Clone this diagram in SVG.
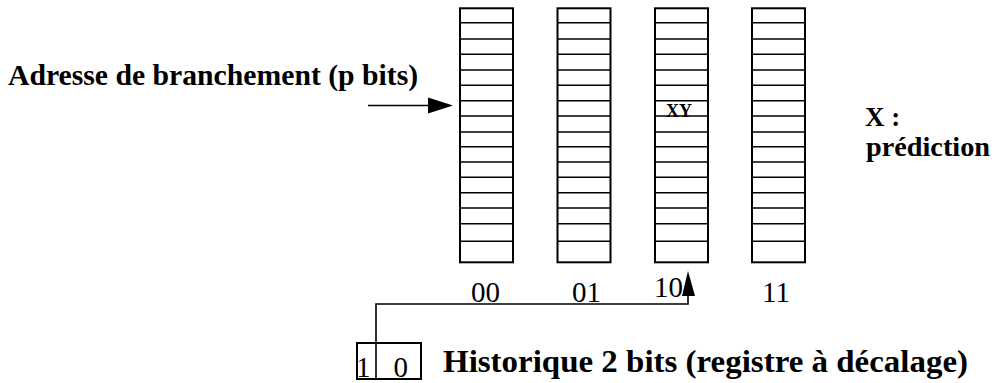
<svg xmlns="http://www.w3.org/2000/svg" xmlns:xlink="http://www.w3.org/1999/xlink" width="995" height="383" viewBox="0 0 995 383">
<style>
  .frame{fill:#fff;stroke:#000;stroke-width:2}
  .row{fill:none;stroke:#000;stroke-width:1.6}
  .wire{fill:none;stroke:#000;stroke-width:1.6}
  .lbl{font-family:"Liberation Serif","Times New Roman",serif;fill:#000}
  .b{font-weight:bold}
</style>
<defs>
  <g id="table">
    <rect class="frame" x="0" y="8.3" width="53" height="254"/>
    <path class="row" d="M0 22.7H53M0 39H53M0 54.3H53M0 70H53M0 85.3H53M0 100.7H53M0 116H53M0 132H53M0 146.7H53M0 162H53M0 177.3H53M0 192.7H53M0 208H53M0 223.7H53M0 241.3H53"/>
  </g>
</defs>
<g id="table00"><use xlink:href="#table" x="460"/><text class="lbl" x="471" y="301.5" font-size="29">00</text></g>
<g id="table01"><use xlink:href="#table" x="557.5"/><text class="lbl" x="572" y="301.5" font-size="29">01</text></g>
<g id="table10"><use xlink:href="#table" x="655"/><text class="lbl" x="654" y="297" font-size="29">10</text><text class="lbl b" x="666" y="116.5" font-size="18">XY</text></g>
<g id="table11"><use xlink:href="#table" x="752"/><text class="lbl" x="762" y="301.5" font-size="29">11</text></g>
<g id="register">
  <rect class="frame" x="357" y="343" width="64" height="36"/>
  <line class="wire" x1="376" y1="343" x2="376" y2="379"/>
  <text class="lbl" x="356" y="377" font-size="29">1</text>
  <text class="lbl" x="393.5" y="377" font-size="29">0</text>
</g>
<g id="address-label"><text class="lbl b" x="8" y="85" font-size="29.7">Adresse de branchement (p bits)</text></g>
<g id="history-label"><text class="lbl b" x="443" y="372" font-size="31.5" textLength="525" lengthAdjust="spacingAndGlyphs">Historique 2 bits (registre à décalage)</text></g>
<g id="legend"><text class="lbl b" x="865" y="126" font-size="27">X :</text><text class="lbl b" x="866" y="156" font-size="27" textLength="124" lengthAdjust="spacingAndGlyphs">prédiction</text></g>
<g id="connectors">
  <line class="wire" x1="368" y1="105.5" x2="430" y2="105.5"/>
  <polygon points="453,105.5 428,97.5 428,113.5" fill="#000"/>
  <polyline class="wire" points="376,343 376,304 688,304 688,292"/>
  <polygon points="688,271 682,296 695,296" fill="#000"/>
</g>
</svg>
